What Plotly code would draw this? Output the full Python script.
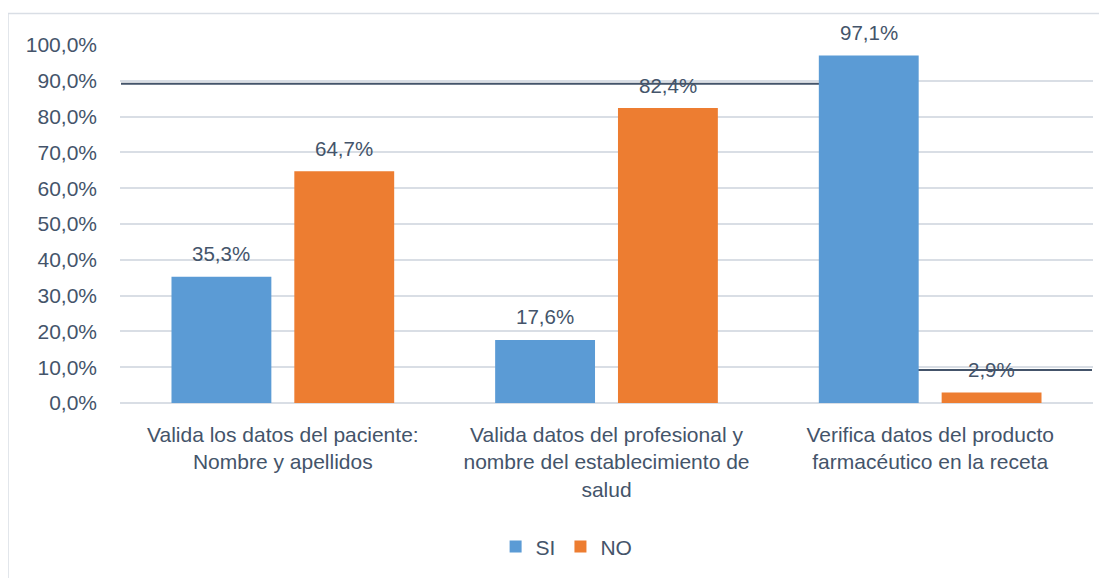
import plotly.graph_objects as go

categories = [
    "Valida los datos del paciente:<br>Nombre y apellidos",
    "Valida datos del profesional y<br>nombre del establecimiento de<br>salud",
    "Verifica datos del producto<br>farmacéutico en la receta",
]
si_values = [35.3, 17.6, 97.1]
no_values = [64.7, 82.4, 2.9]
y_ticks = [0, 10, 20, 30, 40, 50, 60, 70, 80, 90, 100]
y_tick_labels = ["0,0%", "10,0%", "20,0%", "30,0%", "40,0%", "50,0%",
                 "60,0%", "70,0%", "80,0%", "90,0%", "100,0%"]

FONT = "Liberation Sans, Arial, sans-serif"
TXT = "#44546A"
GRID = "#D9DEE5"


def fmt(v):
    return f"{v:.1f}".replace(".", ",") + "%"


fig = go.Figure()
fig.add_trace(go.Bar(
    name="SI", x=categories, y=si_values,
    marker=dict(color="#5B9BD5", line=dict(width=0)),
))
fig.add_trace(go.Bar(
    name="NO", x=categories, y=no_values,
    marker=dict(color="#ED7D31", line=dict(width=0)),
))

# data labels
for vals, xs in ((si_values, -61.5), (no_values, 61.5)):
    for c, v in zip(categories, vals):
        fig.add_annotation(x=c, y=v, text=fmt(v), showarrow=False, xref="x", yref="y",
                           xshift=xs, yshift=23, yanchor="middle",
                           font=dict(family=FONT, size=20.5, color=TXT))

# stray dark lines present in the reference
fig.add_shape(type="line", xref="x", yref="y", x0=-0.5, x1=1.8, y0=89.2, y1=89.2,
              line=dict(color="#44546A", width=2), layer="below")
fig.add_shape(type="line", xref="x", yref="y", x0=1.8, x1=2.5, y0=9.2, y1=9.2,
              line=dict(color="#44546A", width=2), layer="below")

# chart border (top and left)
fig.add_shape(type="line", xref="paper", yref="paper", x0=-0.1151, x1=1.03, y0=1.0879, y1=1.0879,
              line=dict(color="#D9DEE5", width=1.5))
fig.add_shape(type="line", xref="paper", yref="paper", x0=-0.1151, x1=-0.1151, y0=1.0879, y1=-0.5,
              line=dict(color="#D9DEE5", width=1.5))

fig.update_layout(
    width=1107, height=578,
    margin=dict(l=112, r=22, t=36.5, b=183, autoexpand=False),
    paper_bgcolor="white", plot_bgcolor="white",
    barmode="group", bargap=0.241, bargroupgap=0.187,
    font=dict(family=FONT, size=21, color=TXT),
    showlegend=True,
    legend=dict(orientation="h", x=0.459, xanchor="center", y=-0.402, yanchor="middle",
                font=dict(family=FONT, size=21, color=TXT), itemwidth=30, traceorder="normal",
                tracegroupgap=0),
    xaxis=dict(showgrid=False, showline=False, ticks="", ticklabelstandoff=17, automargin=False,
               tickfont=dict(family=FONT, size=21, color=TXT)),
    yaxis=dict(range=[0, 100], tickvals=y_ticks, ticktext=y_tick_labels, automargin=False,
               showgrid=True, gridcolor=GRID, gridwidth=1.5, zeroline=True,
               zerolinecolor=GRID, zerolinewidth=1.5, showline=False, ticks="",
               ticklabelstandoff=22, tickfont=dict(family=FONT, size=21, color=TXT)),
)

fig.write_html("out.html")
